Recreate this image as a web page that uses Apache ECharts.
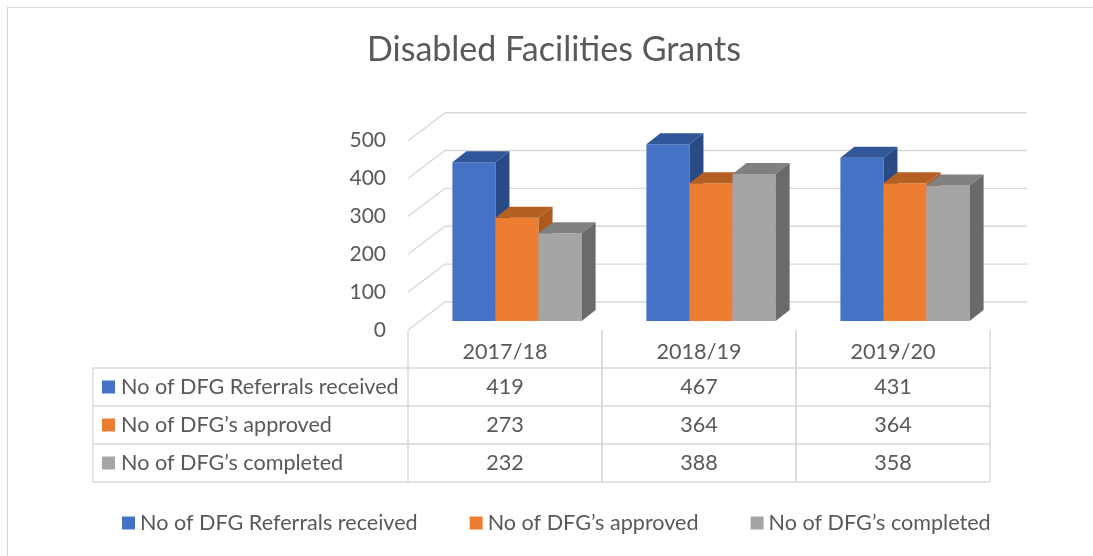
<!DOCTYPE html>
<html>
<head>
<meta charset="utf-8">
<script src="https://cdn.jsdelivr.net/npm/echarts@6/dist/echarts.min.js"></script>
<style>html,body{margin:0;padding:0;background:#fff;}#c{width:1093px;height:556px;}</style>
</head>
<body>
<div id="c"></div>
<script>
const categories = ['2017/18', '2018/19', '2019/20'];
const seriesNames = ['No of DFG Referrals received', 'No of DFG’s approved', 'No of DFG’s completed'];
const referrals = [419, 467, 431];
const approved = [273, 364, 364];
const completed = [232, 388, 358];
const yTicks = [0, 100, 200, 300, 400, 500];

const seriesValues = [referrals, approved, completed];
const frontColors = ['#4472C4', '#ED7D31', '#A5A5A5'];
const topColors = ['#31569A', '#B55F22', '#808080'];
const sideColors = ['#2A4A85', '#AE5A1F', '#6A6A6A'];
const TEXT = '#595959';
const LINE = '#D9D9D9';
const FONT = 'Lato';
const BODY_SIZE = 21.6;

const WALL_DX = 37, WALL_DY = -28;
const BAR_OFF_DX = 12, BAR_OFF_DY = -9;
const BAR_DX = 14, BAR_DY = -11;
const BAR_FRAC = 0.222;
const ROW_H = 38;
const LABEL_W = 315;

function wallItem(params, api) {
  const v = api.value(1);
  const p = api.coord([0, v]);
  const cs = params.coordSys;
  const x0 = cs.x, x1 = cs.x + cs.width;
  return {
    type: 'polyline',
    shape: { points: [[x0, p[1]], [x0 + WALL_DX, p[1] + WALL_DY], [x1 + WALL_DX, p[1] + WALL_DY]] },
    style: { stroke: LINE, lineWidth: 1.4, fill: null }
  };
}

function barRenderer(s) {
  return function (params, api) {
    const i = api.value(0), v = api.value(1);
    const top = api.coord([i, v]);
    const base = api.coord([i, 0]);
    const band = api.size([1, 0])[0];
    const w = band * BAR_FRAC;
    const xl = top[0] - 1.5 * w + s * w + BAR_OFF_DX;
    const xr = xl + w;
    const yt = top[1] + BAR_OFF_DY;
    const yb = base[1] + BAR_OFF_DY;
    return {
      type: 'group',
      children: [
        { type: 'polygon', shape: { points: [[xl, yt], [xr, yt], [xr, yb], [xl, yb]] }, style: { fill: frontColors[s] } },
        { type: 'polygon', shape: { points: [[xl, yt], [xl + BAR_DX, yt + BAR_DY], [xr + BAR_DX, yt + BAR_DY], [xr, yt]] }, style: { fill: topColors[s] } },
        { type: 'polygon', shape: { points: [[xr, yt], [xr + BAR_DX, yt + BAR_DY], [xr + BAR_DX, yb + BAR_DY], [xr, yb]] }, style: { fill: sideColors[s] } }
      ]
    };
  };
}

function line(x1, y1, x2, y2) {
  return { type: 'line', shape: { x1: x1, y1: y1, x2: x2, y2: y2 }, style: { stroke: LINE, lineWidth: 1.4 } };
}

function tableItem(params, api) {
  const i = api.value(0);
  const c = api.coord([i, 0]);
  const band = api.size([1, 0])[0];
  const xl = c[0] - band / 2, xr = c[0] + band / 2;
  const y0 = c[1];
  const ch = [];
  ch.push(line(xl, y0, xl, y0 + 4 * ROW_H));
  ch.push(line(xr, y0, xr, y0 + 4 * ROW_H));
  for (let k = 1; k <= 4; k++) ch.push(line(xl, y0 + k * ROW_H, xr, y0 + k * ROW_H));
  for (let k = 0; k < 3; k++) {
    ch.push({
      type: 'text',
      style: {
        text: String(seriesValues[k][i]), x: c[0], y: y0 + (k + 1.5) * ROW_H,
        fill: TEXT, font: BODY_SIZE + 'px ' + FONT, align: 'center', verticalAlign: 'middle'
      }
    });
  }
  return { type: 'group', children: ch };
}

function labelItem(params, api) {
  const cs = params.coordSys;
  const xr = cs.x, xl = cs.x - LABEL_W;
  const y0 = api.coord([0, 0])[1];
  const ch = [];
  ch.push(line(xl, y0 + ROW_H, xl, y0 + 4 * ROW_H));
  for (let k = 1; k <= 4; k++) ch.push(line(xl, y0 + k * ROW_H, xr, y0 + k * ROW_H));
  for (let k = 0; k < 3; k++) {
    const cy = y0 + (k + 1.5) * ROW_H;
    ch.push({ type: 'rect', shape: { x: xl + 9, y: cy - 6.5, width: 13, height: 13 }, style: { fill: frontColors[k] } });
    ch.push({
      type: 'text',
      style: { text: seriesNames[k], x: xl + 28, y: cy, fill: TEXT, font: BODY_SIZE + 'px ' + FONT, align: 'left', verticalAlign: 'middle' }
    });
  }
  return { type: 'group', children: ch };
}

const chart = echarts.init(document.getElementById('c'), null, { renderer: 'canvas' });

const series = [
  {
    name: 'walls', type: 'custom', silent: true, renderItem: wallItem,
    data: yTicks.map(v => [0, v]), z: 1
  }
];
seriesValues.forEach((vals, s) => {
  series.push({
    name: seriesNames[s], type: 'custom', silent: true, renderItem: barRenderer(s),
    itemStyle: { color: frontColors[s] },
    data: vals.map((v, i) => [i, v]), z: 2 + s
  });
});
series.push({
  name: 'table', type: 'custom', silent: true, renderItem: tableItem,
  data: categories.map((c, i) => [i, 0]), z: 6
});
series.push({
  name: 'tableLabels', type: 'custom', silent: true, renderItem: labelItem,
  data: [[0, 0]], z: 6
});

chart.setOption({
  animation: false,
  color: frontColors,
  textStyle: { fontFamily: FONT },
  graphic: [{
    type: 'rect', shape: { x: 7.5, y: 7.5, width: 1100, height: 560 },
    style: { fill: null, stroke: LINE, lineWidth: 1.2 }, silent: true
  }],
  title: {
    text: 'Disabled Facilities Grants',
    left: 367, top: 33, padding: 0,
    textStyle: { fontFamily: FONT, fontSize: 34, fontWeight: 'normal', color: TEXT }
  },
  legend: {
    data: seriesNames,
    left: 122, top: 512, padding: 0,
    icon: 'rect', itemWidth: 13, itemHeight: 13, itemGap: 52,
    textStyle: { fontFamily: FONT, fontSize: BODY_SIZE, color: TEXT }
  },
  grid: { left: 408, right: 103, top: 140.7, bottom: 226 },
  xAxis: {
    type: 'category', data: categories,
    axisLine: { show: false }, axisTick: { show: false }, splitLine: { show: false },
    axisLabel: { fontFamily: FONT, fontSize: BODY_SIZE, color: TEXT, margin: 11 }
  },
  yAxis: {
    type: 'value', min: 0, max: 500, interval: 100,
    axisLine: { show: false }, axisTick: { show: false }, splitLine: { show: false },
    axisLabel: { fontFamily: FONT, fontSize: 21, color: TEXT, margin: 22 }
  },
  series: series
});
</script>
</body>
</html>
